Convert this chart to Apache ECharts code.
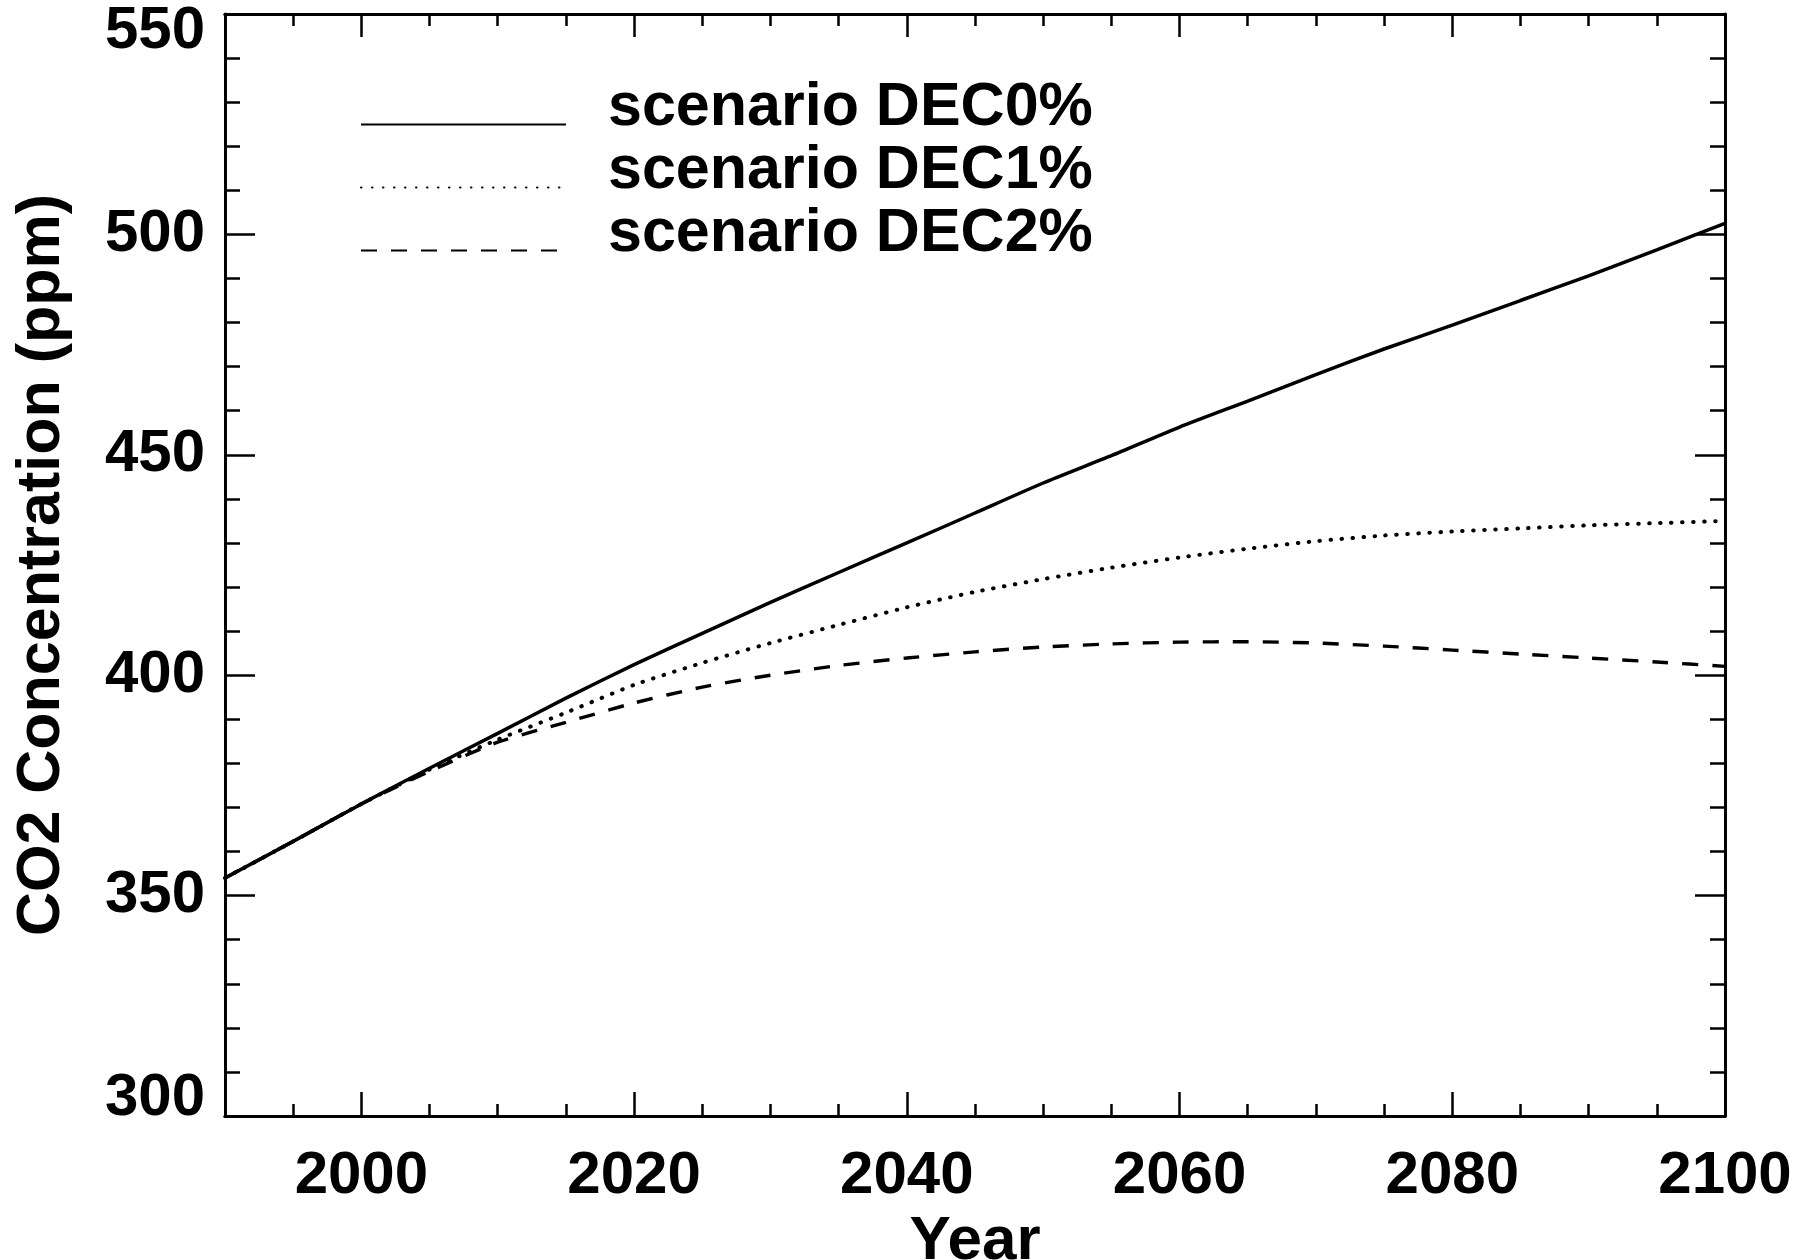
<!DOCTYPE html>
<html>
<head>
<meta charset="utf-8">
<script src="https://cdn.jsdelivr.net/npm/echarts@6/dist/echarts.min.js"></script>
<style>
html,body{margin:0;padding:0;background:#fff;}
#chart{width:1817px;height:1260px;}
</style>
</head>
<body>
<div id="chart"></div>
<script>
const years = [1990,1995,2000,2005,2010,2015,2020,2025,2030,2035,2040,2045,2050,2055,2060,2065,2070,2075,2080,2085,2090,2095,2100];
const dec0 = [354.0,362.3,370.8,378.9,386.8,394.8,402.4,409.5,416.5,423.3,430.0,436.8,443.6,449.8,456.3,462.2,468.2,474.0,479.4,485.0,490.6,496.5,502.5];
const dec1 = [354.0,362.3,370.8,378.6,385.4,391.5,397.8,402.8,407.3,411.4,415.4,418.9,421.8,424.4,426.7,428.7,430.4,431.7,432.6,433.3,434.0,434.5,435.0];
const dec2 = [354.0,362.3,370.8,378.2,384.8,389.3,393.7,397.3,400.0,402.2,403.9,405.3,406.4,407.1,407.5,407.6,407.3,406.6,405.7,404.8,403.9,403.0,402.0];
const seriesNames = ['scenario DEC0%','scenario DEC1%','scenario DEC2%'];
const xTickLabels = [2000,2020,2040,2060,2080,2100];
const xTitle = 'Year';
const yTitle = 'CO2 Concentration (ppm)';

const FONT = '"Liberation Sans", Arial, Helvetica, sans-serif';
const pairs = arr => years.map((y,i)=>[y,arr[i]]);

const baseX = {
  type:'value', min:1990, max:2100, interval:5, gridIndex:0,
  axisLine:{show:true,onZero:false,lineStyle:{color:'#000',width:3}},
  splitLine:{show:false},
  axisLabel:{show:false}
};
const xAxes = [
  Object.assign({}, baseX, {position:'bottom',
    axisTick:{show:true,inside:true,length:12,lineStyle:{color:'#000',width:2.5}}}),
  Object.assign({}, baseX, {position:'bottom',
    axisTick:{show:true,inside:true,length:24,customValues:xTickLabels,lineStyle:{color:'#000',width:2.5}},
    axisLabel:{show:true,customValues:xTickLabels,formatter:v=>String(v),margin:30,
      fontFamily:FONT,fontWeight:'bold',fontSize:60,color:'#000'},
    name:xTitle,nameLocation:'middle',nameGap:90,
    nameTextStyle:{fontFamily:FONT,fontWeight:'bold',fontSize:62,color:'#000'}}),
  Object.assign({}, baseX, {position:'top',
    axisTick:{show:true,inside:true,length:12,lineStyle:{color:'#000',width:2.5}}}),
  Object.assign({}, baseX, {position:'top',
    axisTick:{show:true,inside:true,length:23,customValues:xTickLabels,lineStyle:{color:'#000',width:2.5}}})
];

const baseY = {
  type:'value', min:300, max:550, interval:50, gridIndex:0,
  axisLine:{show:true,onZero:false,lineStyle:{color:'#000',width:3}},
  splitLine:{show:false},
  axisTick:{show:true,inside:true,length:30,lineStyle:{color:'#000',width:2.5}},
  minorTick:{show:true,splitNumber:5,length:15,lineStyle:{color:'#000',width:2.5}},
  minorSplitLine:{show:false}
};
const yAxes = [
  Object.assign({}, baseY, {position:'left',
    axisLabel:{show:true,margin:20,fontFamily:FONT,fontWeight:'bold',fontSize:60,color:'#000',
      formatter:v=> v===550 ? '{t|550}' : (v===300 ? '{b|300}' : String(v)),
      rich:{
        t:{fontFamily:FONT,fontWeight:'bold',fontSize:60,color:'#000',padding:[34,0,0,0]},
        b:{fontFamily:FONT,fontWeight:'bold',fontSize:60,color:'#000',padding:[0,0,36,0]}
      }},
    name:yTitle,nameLocation:'middle',nameRotate:90,nameGap:152,
    nameTextStyle:{fontFamily:FONT,fontWeight:'bold',fontSize:61,color:'#000'}}),
  Object.assign({}, baseY, {position:'right',axisLabel:{show:false}})
];

const styles = [
  {type:'solid',width:3.5},
  {type:[0.5,10.5],width:4,cap:'round'},
  {type:[16,14],width:3.4}
];
const datas = [dec0,dec1,dec2];

const option = {
  animation:false,
  backgroundColor:'#fff',
  grid:{left:225,right:92,top:14,bottom:144,containLabel:false,outerBoundsMode:'none'},
  legend:{
    show:true, orient:'vertical', left:360, top:78, padding:0,
    itemWidth:205, itemHeight:20, itemGap:-30, selectedMode:false,
    itemStyle:{opacity:0,borderWidth:0},
    data:seriesNames,
    formatter:name=>name+'\n ',
    textStyle:{fontFamily:FONT,fontWeight:'bold',fontSize:61,color:'#000',lineHeight:32,padding:[0,0,0,37]}
  },
  xAxis:xAxes,
  yAxis:yAxes,
  series:datas.map((d,i)=>({
    name:seriesNames[i], type:'line', xAxisIndex:0, yAxisIndex:0,
    data:pairs(d), showSymbol:false, symbol:'none', smooth:0.2,
    lineStyle:Object.assign({color:'#000'}, styles[i]),
    itemStyle:{color:'#000'}
  }))
};
const chart = echarts.init(document.getElementById('chart'), null, {renderer:'canvas'});
chart.setOption(option);
</script>
</body>
</html>
